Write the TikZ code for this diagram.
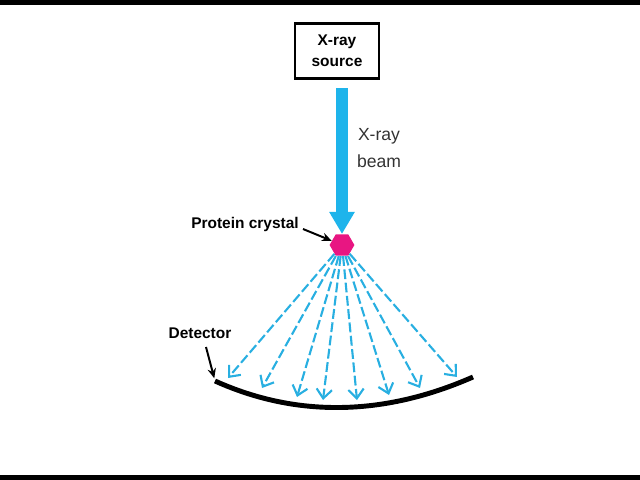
\documentclass[tikz,border=0pt]{standalone}
\usepackage{fontspec}
\setmainfont{Liberation Sans}
\usetikzlibrary{arrows.meta,shapes.geometric}
\definecolor{beamblue}{RGB}{30,180,235}
\definecolor{raycyan}{RGB}{40,175,225}
\definecolor{crystalpink}{RGB}{232,22,130}
\begin{document}
\begin{tikzpicture}[
   x=0.025cm, y=-0.025cm,
   every node/.style={font=\fontsize{11}{15}\selectfont\bfseries, align=center, inner sep=0pt},
   ray/.style={draw=raycyan, line width=1.5pt, dash pattern=on 7pt off 2.5pt,
               -{Straight Barb[length=6.5pt, width=11pt, line width=1.5pt]}},
   pointer/.style={draw, line width=1.4pt, -{Stealth[length=7pt, width=6pt]}}]

\useasboundingbox (0,0) rectangle (640,480);
\fill (0,0) rectangle (640,5);
\fill (0,475) rectangle (640,480);

\node[draw, line width=2pt, minimum width=2.1cm, minimum height=1.38cm] (source) at (337,51) {X-ray\\source};
\node[regular polygon, regular polygon sides=6, fill=crystalpink, minimum size=0.62cm] (crystal) at (342,245) {};
\node[font=\fontsize{12.5}{19}\selectfont, text=black!80] (beamlab) at (379,148) {X-ray\\beam};
\node (protlab) at (245,224) {Protein crystal};
\node (detlab) at (200,333) {Detector};

\draw[beamblue, line width=0.3cm, shorten <=0.2cm, -{Triangle[length=0.55cm, width=0.6cm]}]
   (crystal |- source.south) -- (crystal.north);

\coordinate (protarrow) at (303,229);
\draw[pointer] (protarrow) -- (crystal);

\coordinate (detleft) at (215,381);
\coordinate (detright) at (473,377);
\coordinate (detarrow) at (206,347);
\draw[line width=3.5pt] (detleft) .. controls (295,417) and (382,417) .. (detright);
\draw[pointer, shorten >=2pt] (detarrow) -- (detleft);

\foreach \hx/\hy [count=\i] in {228/378, 262/388, 297/397, 323/400, 357/400, 389/395, 420/388, 457/377}{
   \coordinate (hit\i) at (\hx,\hy);
   \draw[ray] (crystal) -- (hit\i);
}

\end{tikzpicture}
\end{document}
